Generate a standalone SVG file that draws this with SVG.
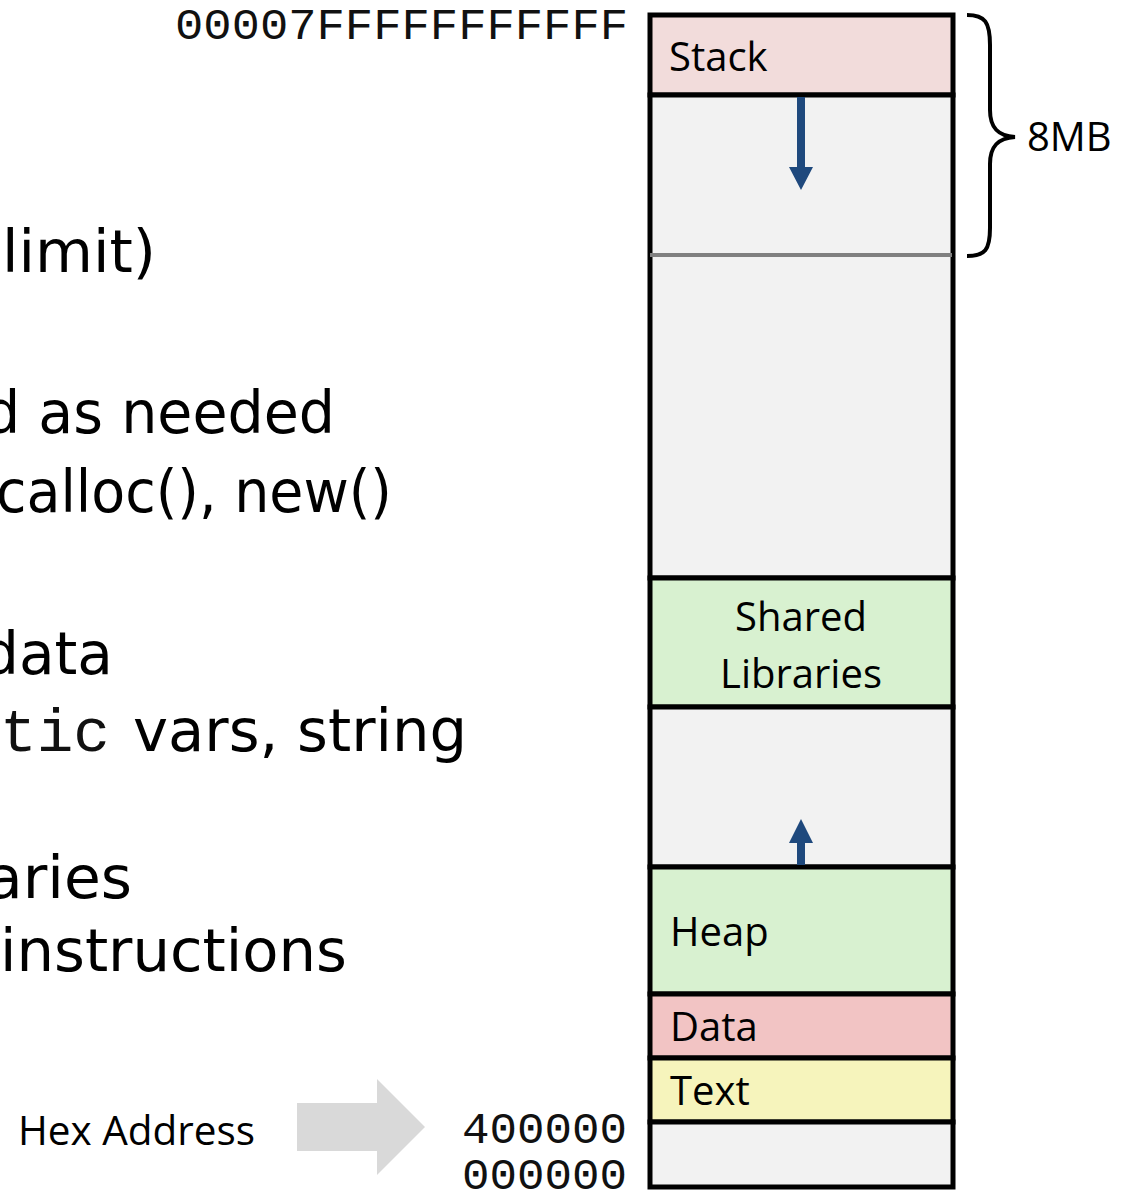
<svg xmlns="http://www.w3.org/2000/svg" width="1134" height="1194" viewBox="0 0 1134 1194">
  <style>
    .seg { stroke: #000; stroke-width: 5; }
    .label { font-family: "Open Sans", "Noto Sans", sans-serif; font-size: 40px; fill: #000; }
    .addr { font-family: "Liberation Mono", "DejaVu Sans Mono", monospace; font-size: 44px; fill: #111; }
    .note { font-family: "DejaVu Sans", "Noto Sans", sans-serif; font-size: 58px; fill: #000; }
    .note-mono { font-family: "Liberation Mono", monospace; font-size: 61px; fill: #111; }
    .grow { fill: #1f497d; }
  </style>
  <rect width="1134" height="1194" fill="#fff"/>

  <!-- side notes (partially off the left edge) -->
  <g id="notes">
    <text class="note" x="2" y="272" textLength="154" lengthAdjust="spacingAndGlyphs">limit)</text>
    <text class="note" x="-16" y="433" textLength="351" lengthAdjust="spacingAndGlyphs">d as needed</text>
    <text class="note" x="-4" y="512" textLength="396" lengthAdjust="spacingAndGlyphs">calloc(), new()</text>
    <text class="note" x="-18" y="674" textLength="131" lengthAdjust="spacingAndGlyphs">data</text>
    <text class="note-mono" x="0" y="751" textLength="110" lengthAdjust="spacingAndGlyphs">tic</text>
    <text class="note" x="133" y="751" textLength="334" lengthAdjust="spacingAndGlyphs">vars, string</text>
    <text class="note" x="-14" y="898" textLength="146" lengthAdjust="spacingAndGlyphs">aries</text>
    <text class="note" x="0" y="971" textLength="347" lengthAdjust="spacingAndGlyphs">instructions</text>
  </g>

  <!-- addresses -->
  <g id="addresses">
    <text class="addr" x="175" y="39" textLength="453" lengthAdjust="spacingAndGlyphs">00007FFFFFFFFFFF</text>
    <text class="addr" x="462" y="1143" textLength="165" lengthAdjust="spacingAndGlyphs">400000</text>
    <text class="addr" x="462" y="1189" textLength="165" lengthAdjust="spacingAndGlyphs">000000</text>
  </g>

  <g id="hex-address">
    <text class="label" x="18" y="1145" textLength="237" lengthAdjust="spacingAndGlyphs">Hex Address</text>
    <polygon points="297,1103 377,1103 377,1079 425,1127 377,1175 377,1151 297,1151" fill="#d9d9d9"/>
  </g>

  <!-- memory layout column -->
  <g id="stack">
    <rect class="seg" x="650" y="15" width="303" height="80" fill="#f2dcdb"/>
    <text class="label" x="669" y="71">Stack</text>
  </g>
  <g id="free-upper">
    <rect class="seg" x="650" y="95" width="303" height="483" fill="#f2f2f2"/>
  </g>
  <g id="shared-libraries">
    <rect class="seg" x="650" y="578" width="303" height="129" fill="#d8f1d0"/>
    <text class="label" x="801" y="631" text-anchor="middle">Shared</text>
    <text class="label" x="801" y="688" text-anchor="middle">Libraries</text>
  </g>
  <g id="free-lower">
    <rect class="seg" x="650" y="707" width="303" height="160" fill="#f2f2f2"/>
  </g>
  <g id="heap">
    <rect class="seg" x="650" y="867" width="303" height="127" fill="#d8f1d0"/>
    <text class="label" x="670" y="946">Heap</text>
  </g>
  <g id="data">
    <rect class="seg" x="650" y="994" width="303" height="64" fill="#f2c4c4"/>
    <text class="label" x="670" y="1041">Data</text>
  </g>
  <g id="text">
    <rect class="seg" x="650" y="1058" width="303" height="64" fill="#f6f4bc"/>
    <text class="label" x="670" y="1105">Text</text>
  </g>
  <g id="reserved">
    <rect class="seg" x="650" y="1122" width="303" height="65" fill="#f2f2f2"/>
  </g>

  <g id="connectors">
    <!-- stack limit line -->
    <line x1="650" y1="255" x2="952" y2="255" stroke="#808080" stroke-width="4"/>
    <!-- stack grows down -->
    <polygon class="grow" points="797,97 805,97 805,167 813,167 801,190 789,167 797,167"/>
    <!-- heap grows up -->
    <polygon class="grow" points="801,819 813,843 805,843 805,865 797,865 797,843 789,843"/>
    <!-- 8MB brace -->
    <path d="M967,15 C985,15 990,22 990,45 L990,110 C990,128 998,136 1015,137 C998,138 990,146 990,164 L990,228 C990,250 985,256 967,256" fill="none" stroke="#000" stroke-width="4"/>
    <text class="label" x="1027" y="151">8MB</text>
  </g>
</svg>
